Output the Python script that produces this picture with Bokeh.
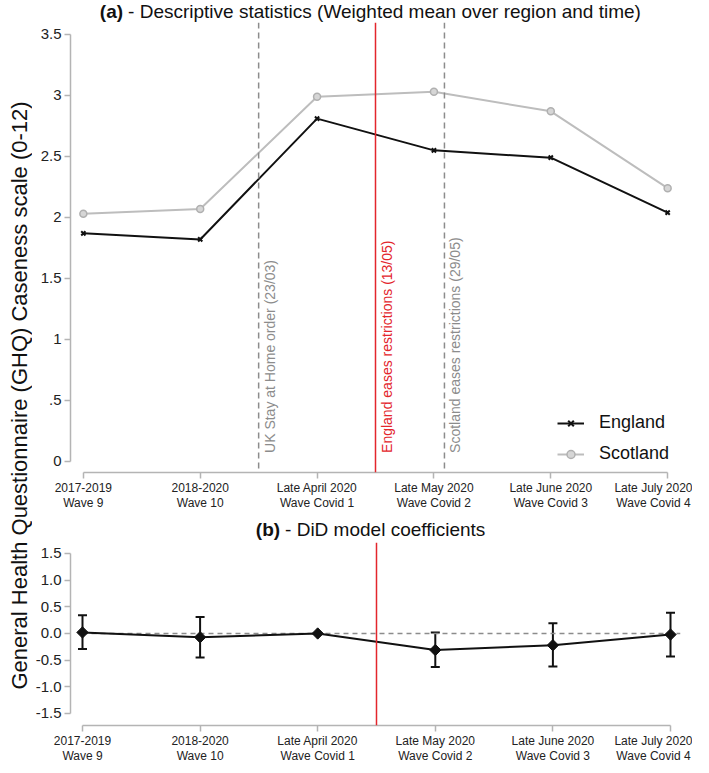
import math
from bokeh.plotting import figure
from bokeh.models import (ColumnDataSource, Span, Label, Legend, LegendItem,
                          FixedTicker, Whisker, TeeHead, Range1d)
from bokeh.layouts import row, column
from bokeh.embed import file_html
from bokeh.resources import INLINE

# ---------------- data ----------------
wave_labels = ["2017-2019\nWave 9", "2018-2020\nWave 10", "Late April 2020\nWave Covid 1",
               "Late May 2020\nWave Covid 2", "Late June 2020\nWave Covid 3", "Late July 2020\nWave Covid 4"]
wave_pos = [0, 1, 2, 3, 4, 5]
england = [1.87, 1.82, 2.81, 2.55, 2.49, 2.04]
scotland = [2.03, 2.07, 2.99, 3.03, 2.87, 2.24]

did_coef = [0.02, -0.07, 0.0, -0.31, -0.22, -0.02]
did_lower = [-0.29, -0.45, float("nan"), -0.63, -0.62, -0.43]
did_upper = [0.34, 0.31, float("nan"), 0.02, 0.19, 0.39]

event_pos = [1.5, 2.5, 3.09]
event_text = ["UK Stay at Home order (23/03)", "England eases restrictions (13/05)",
              "Scotland eases restrictions (29/05)"]
event_color = ["#8c8c8c", "#e3262c", "#8c8c8c"]
event_dash = ["6 4", "solid", "6 4"]

top_ticks = [0, 0.5, 1, 1.5, 2, 2.5, 3, 3.5]
top_tick_labels = ["0", ".5", "1", "1.5", "2", "2.5", "3", "3.5"]
bot_ticks = [-1.5, -1.0, -0.5, 0.0, 0.5, 1.0, 1.5]
bot_tick_labels = ["-1.5", "-1.0", "-0.5", "0.0", "0.5", "1.0", "1.5"]

ylabel = "General Health Questionnaire (GHQ) Caseness scale (0-12)"
title_a = ("(a)", "- Descriptive statistics (Weighted mean over region and time)")
title_b = ("(b)", "- DiD model coefficients")

FONT = "Liberation Sans"
AX = "#b4b4b4"
RED = "#e3262c"
W = 660


def style(p, yticks, ylabels, ybounds):
    p.grid.visible = False
    p.outline_line_color = None
    p.background_fill_color = "white"
    for ax in (p.xaxis[0], p.yaxis[0]):
        ax.axis_line_color = AX
        ax.axis_line_width = 1.5
        ax.major_tick_line_color = AX
        ax.major_tick_line_width = 1.5
        ax.minor_tick_line_color = None
        ax.major_tick_in = 0
        ax.major_label_text_font = FONT
        ax.major_label_text_color = "#222222"
    p.xaxis.ticker = FixedTicker(ticks=wave_pos)
    p.xaxis.major_label_overrides = {pos: lab for pos, lab in zip(wave_pos, wave_labels)}
    p.xaxis.major_label_text_font_size = "12px"
    p.xaxis.major_label_text_line_height = 1.1
    p.xaxis.major_tick_out = 6
    p.xaxis.major_label_standoff = 2
    p.xaxis.bounds = (wave_pos[0], wave_pos[-1])
    p.yaxis.ticker = FixedTicker(ticks=yticks)
    p.yaxis.major_label_overrides = {t: l for t, l in zip(yticks, ylabels)}
    p.yaxis.major_label_text_font_size = "15px"
    p.yaxis.major_tick_out = 6
    p.yaxis.major_label_standoff = 3
    p.yaxis.bounds = ybounds


def title_fig(x_range, left, right, height, parts, x_split, y):
    f = figure(width=W, height=height, output_backend="svg", toolbar_location=None,
               x_range=x_range, y_range=Range1d(0, 1), x_axis_location=None,
               y_axis_location=None, min_border_left=left, min_border_right=right,
               min_border_top=0, min_border_bottom=0)
    f.grid.visible = False
    f.outline_line_color = None
    f.add_layout(Label(x=x_split, y=y, text=parts[0], text_font=FONT, text_font_size="19px",
                       text_font_style="bold", text_align="right", text_baseline="middle",
                       text_color="#111111"))
    f.add_layout(Label(x=x_split, y=y, x_offset=5, text=parts[1], text_font=FONT,
                       text_font_size="19px", text_align="left", text_baseline="middle",
                       text_color="#111111"))
    return f


# ---------------- top panel ----------------
top_x = Range1d(-0.11, 5.11)
top = figure(width=W, height=490, output_backend="svg", toolbar_location=None,
             x_range=top_x, y_range=Range1d(-0.0902, 3.598),
             min_border_left=31, min_border_right=10, min_border_top=0, min_border_bottom=40)
style(top, top_ticks, top_tick_labels, (0, 3.5))

for xp, txt, col, dash in zip(event_pos, event_text, event_color, event_dash):
    top.add_layout(Span(location=xp, dimension="height", line_color=col,
                        line_width=1.5, line_dash=dash))
    top.add_layout(Label(x=xp, y=0.07, text=txt, angle=math.pi / 2, x_offset=3,
                         text_align="left", text_baseline="top", text_font=FONT,
                         text_font_size="14px", text_color=col))

src = ColumnDataSource(dict(x=wave_pos, eng=england, sco=scotland))
sl = top.line("x", "sco", source=src, line_color="#bdbdbd", line_width=2)
sm = top.scatter("x", "sco", source=src, marker="circle", size=7, line_color="#b0b0b0",
                 fill_color="#d6d6d6", line_width=1.5)
el = top.line("x", "eng", source=src, line_color="#111111", line_width=2)
em = top.scatter("x", "eng", source=src, marker="x", size=6, line_color="#111111", line_width=2)

legend = Legend(items=[LegendItem(label="England", renderers=[el, em]),
                       LegendItem(label="Scotland", renderers=[sl, sm])],
                location=(487, 8), label_text_font=FONT, label_text_font_size="18px",
                label_text_color="#111111", glyph_width=27, glyph_height=20, label_standoff=15,
                spacing=10, border_line_color=None, background_fill_alpha=0, margin=0, padding=5)
top.add_layout(legend)

ta = title_fig(top_x, 31, 10, 22, title_a, 0.34, 0.5)

# ---------------- bottom panel ----------------
bot_x = Range1d(-0.102, 5.085)
bot = figure(width=W, height=223, output_backend="svg", toolbar_location=None,
             x_range=bot_x, y_range=Range1d(-1.725, 1.706),
             min_border_left=37, min_border_right=12, min_border_top=0, min_border_bottom=40)
style(bot, bot_ticks, bot_tick_labels, (-1.5, 1.5))

# zero reference line, from the first wave to the right edge of the panel
bot.segment(x0=[wave_pos[0]], y0=[0], x1=[bot_x.end], y1=[0], line_color="#8c8c8c",
            line_width=1.5, line_dash="5 4")
bot.add_layout(Span(location=event_pos[1], dimension="height", line_color=RED, line_width=1.5))

bsrc = ColumnDataSource(dict(x=wave_pos, y=did_coef, lo=did_lower, hi=did_upper))
bot.add_layout(Whisker(base="x", lower="lo", upper="hi", source=bsrc, line_color="#111111",
                       line_width=2,
                       upper_head=TeeHead(size=9, line_width=2, line_color="#111111"),
                       lower_head=TeeHead(size=9, line_width=2, line_color="#111111")))
bot.line("x", "y", source=bsrc, line_color="#111111", line_width=2)
bot.scatter("x", "y", source=bsrc, marker="square", angle=math.pi / 4, size=8,
            fill_color="#111111", line_color="#111111")

tb = title_fig(bot_x, 37, 12, 30, title_b, 1.68, 0.433)

# ---------------- shared y label ----------------
H = 22 + 490 + 30 + 223
lab = figure(width=32, height=H, output_backend="svg", toolbar_location=None,
             x_range=Range1d(0, 1), y_range=Range1d(0, 1),
             x_axis_location=None, y_axis_location=None, min_border=0)
lab.grid.visible = False
lab.outline_line_color = None
lab.add_layout(Label(x=0.6, y=(H - 395) / H, text=ylabel, angle=math.pi / 2, text_align="center",
                     text_baseline="middle", text_font=FONT, text_font_size="22px",
                     text_color="#111111"))

layout = row(lab, column(ta, top, tb, bot, spacing=0), spacing=0)

open("out.html", "w").write(file_html(layout, INLINE))
